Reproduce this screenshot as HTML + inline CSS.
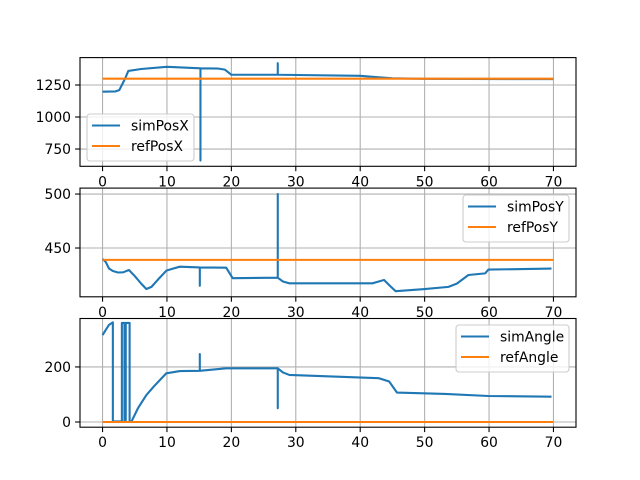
<!DOCTYPE html>
<html><head><meta charset="utf-8"><style>
body{margin:0;background:#fff}
svg{display:block;font-family:"DejaVu Sans","Liberation Sans",sans-serif}
</style></head><body>
<svg id="fig" width="640" height="480" viewBox="0 0 640 480"></svg>
<script>
const xTicks=[0,10,20,30,40,50,60,70];
// Panel 1
const simPosXT=[0,2,2.6,3.5,4,6,10,15.2,15.2,15.2,18,19,20,27.2,27.2,27.2,40,45,50,70];
const simPosXV=[1198,1200,1210,1300,1360,1375,1392,1380,660,1380,1378,1370,1330,1330,1420,1330,1322,1302,1298,1296];
const refPosXT=[0,70];const refPosXV=[1299,1299];
const y1Ticks=[750,1000,1250];
// Panel 2
const simPosYT=[0,0.5,1,1.6,2.4,3.2,4.1,5,6,6.8,7.6,8.8,9.9,11,12,15.1,15.1,15.1,19.2,20.2,27.2,27.2,27.2,28,29,35,41.9,43.7,44.6,45.5,50,53.7,55,56.8,59.4,59.9,69.7];
const simPosYV=[439.8,437,431,428.7,427.3,427.5,429.6,424,417,412,414,422,429,431,432.7,432,415,432,431.8,422,422.5,500,422.5,419,417.3,417.3,417.3,420.4,415,410,412,414,417,425,426.5,430,431];
const refPosYT=[0,70];const refPosYV=[439,439];
const y2Ticks=[450,500];
// Panel 3
const simAngleT=[0,1,1.6,1.6,3.0,3.0,3.4,3.4,3.6,3.6,4.2,4.2,4.5,5.5,6.8,8,9.9,12,15.1,15.1,15.1,19.2,27.2,27.2,27.2,28,29,42.9,44.5,45.7,53.2,59.9,69.7];
const simAngleV=[316,353,362,2,2,360,360,2,2,360,360,2,2,50,98,130,177,185,186,247,186,195,195,50,195,180,171,159,147,107,102,94.5,92];
const refAngleT=[0,70];const refAngleV=[0,0];
const y3Ticks=[0,200];

const NS="http://www.w3.org/2000/svg";
const svg=document.getElementById('fig');
function el(tag,attrs,parent){const e=document.createElementNS(NS,tag);for(const k in attrs)e.setAttribute(k,attrs[k]);(parent||svg).appendChild(e);return e;}
const L=80,R=576,xmin=-3.5,xmax=73.5,FS=13.9;
function xs(v){return L+(v-xmin)/(xmax-xmin)*(R-L);}
const panels=[
 {top:57.6,bot:166.3,ymin:615,ymax:1464,ticks:y1Ticks,series:[[simPosXT,simPosXV,'#1f77b4','simPosX'],[refPosXT,refPosXV,'#ff7f0e','refPosX']],leg:[87,114,107],name:'posx'},
 {top:188.1,bot:296.8,ymin:404.8,ymax:505.5,ticks:y2Ticks,series:[[simPosYT,simPosYV,'#1f77b4','simPosY'],[refPosYT,refPosYV,'#ff7f0e','refPosY']],leg:[463,195,106],name:'posy'},
 {top:318.5,bot:427.2,ymin:-18.9,ymax:376,ticks:y3Ticks,series:[[simAngleT,simAngleV,'#1f77b4','simAngle'],[refAngleT,refAngleV,'#ff7f0e','refAngle']],leg:[456,325,113],name:'angle'}
];
panels.forEach(p=>{
 const g=el('g',{});
 
 
 const ys=v=>p.bot-(v-p.ymin)/(p.ymax-p.ymin)*(p.bot-p.top);
 xTicks.forEach(t=>{const x=xs(t);
  const gl=el('line',{x1:x,x2:x,y1:p.top,y2:p.bot,stroke:'#b0b0b0','stroke-width':1.1},g);
  
  el('line',{x1:x,x2:x,y1:p.bot,y2:p.bot+4.9,stroke:'#000','stroke-width':1.1},g);
  const tx=el('text',{x:x,y:p.bot+20,'font-size':FS,'text-anchor':'middle'},g);tx.textContent=t;
  
 });
 p.ticks.forEach(t=>{const y=ys(t);
  const gl=el('line',{x1:L,x2:R,y1:y,y2:y,stroke:'#b0b0b0','stroke-width':1.1},g);
  
  el('line',{x1:L-4.9,x2:L,y1:y,y2:y,stroke:'#000','stroke-width':1.1},g);
  const tx=el('text',{x:L-9,y:y+5,'font-size':FS,'text-anchor':'end'},g);tx.textContent=t;
  
 });
 p.series.forEach(s=>{
  const d=s[0].map((t,i)=>(i?'L':'M')+xs(t).toFixed(2)+','+ys(s[1][i]).toFixed(2)).join('');
  const pa=el('path',{d:d,fill:'none',stroke:s[2],'stroke-width':2.1,'stroke-linejoin':'round'},g);
  
 });
 const fr=el('rect',{x:L,y:p.top,width:R-L,height:p.bot-p.top,fill:'none',stroke:'#000','stroke-width':1.1},g);
 
 const [lx,ly,lw]=p.leg;
 const lg=el('g',{},g);
 
 el('rect',{x:lx,y:ly,width:lw,height:47,rx:3,fill:'#fff','fill-opacity':0.8,stroke:'#ccc','stroke-width':1.1},lg);
 p.series.forEach((s,i)=>{const yy=ly+11.5+i*20.5;
  el('line',{x1:lx+5,x2:lx+33,y1:yy,y2:yy,stroke:s[2],'stroke-width':2.1},lg);
  const tx=el('text',{x:lx+44,y:yy+5,'font-size':FS},lg);tx.textContent=s[3];
  
 });
});
</script>
</body></html>
